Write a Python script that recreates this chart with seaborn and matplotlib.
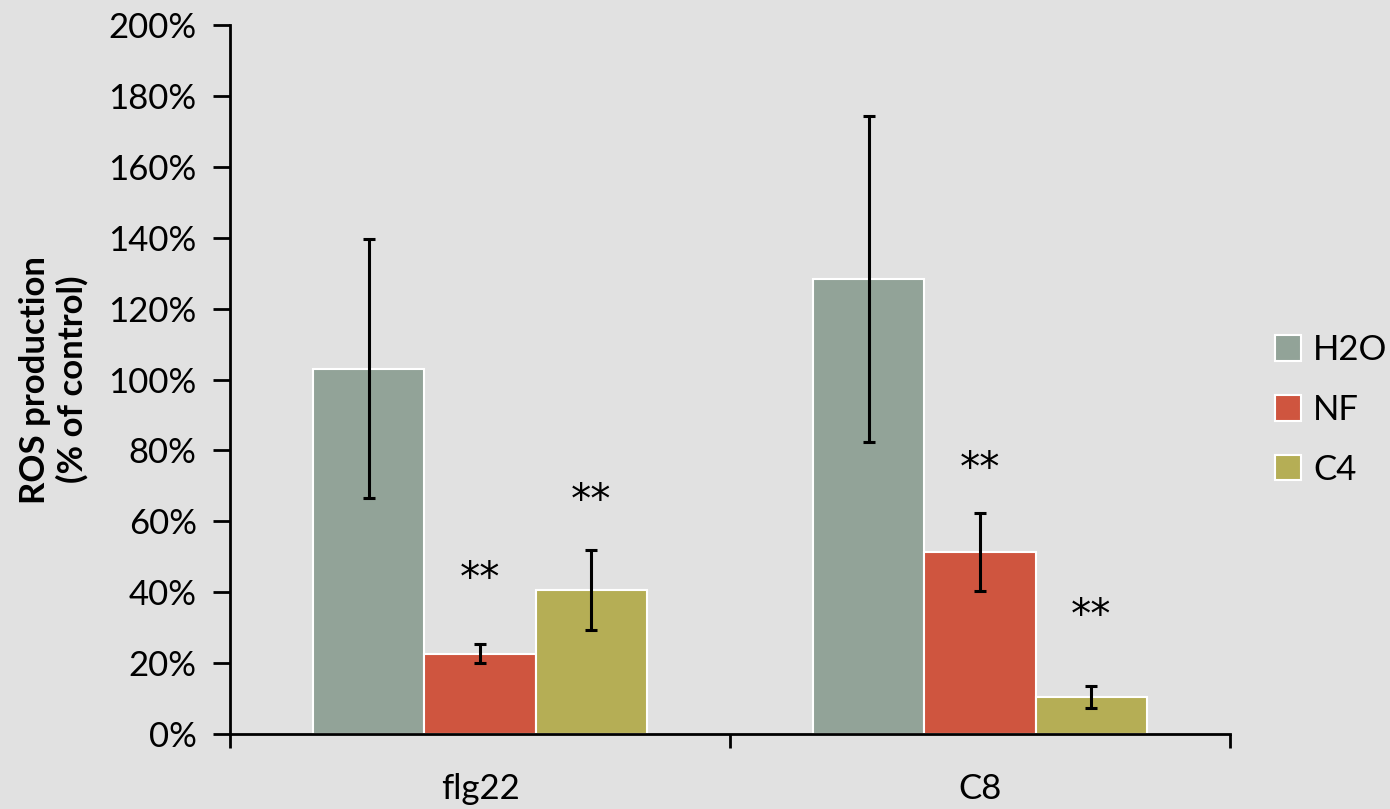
import matplotlib
matplotlib.use("Agg")
import matplotlib.pyplot as plt
import seaborn as sns
import pandas as pd
import numpy as np

# ---- data ----
categories = ["flg22", "C8"]
treatments = ["H2O", "NF", "C4"]
h2o_vals = [103.0, 128.3]
nf_vals = [22.6, 51.3]
c4_vals = [40.6, 10.4]
h2o_err = [36.5, 46.0]
nf_err = [2.7, 11.0]
c4_err = [11.3, 3.0]
# significance marks: category, treatment, height in %
star_cat = ["flg22", "flg22", "C8", "C8"]
star_trt = ["NF", "C4", "NF", "C4"]
star_lvl = [43.5, 65.5, 74.5, 33.0]
yticks = list(range(0, 201, 20))

colors = {"H2O": "#92A398", "NF": "#CF553F", "C4": "#B5AE55"}
bg = "#E1E1E1"

df = pd.DataFrame({
    "category": categories * 3,
    "treatment": [t for t in treatments for _ in categories],
    "value": h2o_vals + nf_vals + c4_vals,
    "err": h2o_err + nf_err + c4_err,
})

sns.set_theme(style="white")
plt.rcParams["font.family"] = ["Lato", "DejaVu Sans"]
plt.rcParams["text.color"] = "black"
plt.rcParams["axes.labelcolor"] = "black"
plt.rcParams["xtick.color"] = "black"
plt.rcParams["ytick.color"] = "black"

fig = plt.figure(figsize=(13.9, 8.09), dpi=100)
fig.patch.set_facecolor(bg)
ax = fig.add_axes([230/1390, 75/809, 1000/1390, 709/809])
ax.set_facecolor(bg)

sns.barplot(data=df, x="category", y="value", hue="treatment",
            order=categories, hue_order=treatments, palette=colors,
            width=2/3, errorbar=None, edgecolor="white", linewidth=1.5,
            saturation=1, ax=ax)

# error bars and stars, placed on the library's bar patches
bars = ax.patches[:len(df)]
for i, t in enumerate(treatments):
    for j, c in enumerate(categories):
        p = bars[i * len(categories) + j]
        row = df[(df.category == c) & (df.treatment == t)].iloc[0]
        xc = p.get_x() + p.get_width() / 2
        ax.errorbar(xc, row.value, yerr=row.err, color="black", lw=2.2,
                    capsize=4.5, capthick=2.2, zorder=5)
        for sc, st, sl in zip(star_cat, star_trt, star_lvl):
            if sc == c and st == t:
                ax.text(xc, sl, "**", ha="center", va="center",
                        fontsize=29, color="black",
                        family=["DejaVu Sans"])

ax.set_ylim(0, 200)
ax.set_xlim(-0.5, 1.5)
ax.set_yticks(yticks)
ax.set_yticklabels([f"{v}%" for v in yticks], fontsize=25)
ax.set_xticks([0, 1])
ax.set_xticklabels(categories, fontsize=25)
ax.set_xticks([-0.5, 0.5, 1.5], minor=True)
ax.tick_params(axis="x", which="major", length=0, pad=28)
ax.tick_params(axis="x", which="minor", length=10, width=2, color="black", direction="out", bottom=True)
ax.tick_params(axis="y", which="major", length=12, width=2, color="black", direction="out", left=True, pad=12)
ax.set_xlabel("")
ax.set_ylabel("ROS production\n(% of control)", fontsize=25, fontweight="bold", labelpad=14)

for s in ["top", "right"]:
    ax.spines[s].set_visible(False)
for s in ["left", "bottom"]:
    ax.spines[s].set_color("black")
    ax.spines[s].set_linewidth(2)

leg = ax.legend(loc="center left", bbox_to_anchor=(1.031, 0.457), frameon=False,
                fontsize=25, handlelength=0.75, handleheight=0.75,
                labelspacing=0.8, handletextpad=0.35, borderaxespad=0)
for h in leg.legend_handles:
    h.set_edgecolor("white")

fig.savefig("out.png", dpi=100, facecolor=bg)
